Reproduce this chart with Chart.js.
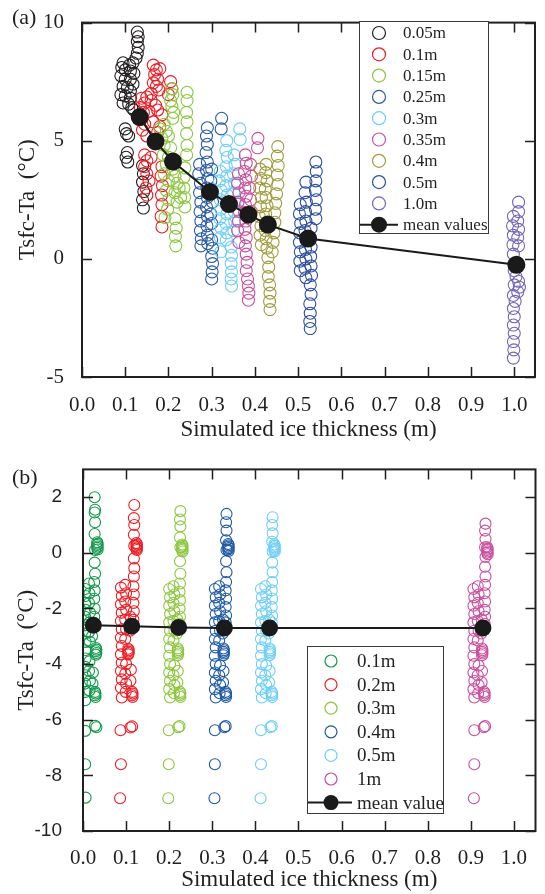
<!DOCTYPE html>
<html>
<head>
<meta charset="utf-8">
<script src="https://cdn.jsdelivr.net/npm/chart.js@4.4.1/dist/chart.umd.min.js"></script>
<style>
  body { margin: 0; background: #fff; }
  canvas { position: absolute; left: 0; }
  #chartA { top: 0; }
  #chartB { top: 445px; }
</style>
</head>
<body>
<canvas id="chartA" width="545" height="445"></canvas>
<canvas id="chartB" width="545" height="449"></canvas>
<script>
// ---- panel (a): x = simulated ice thickness (m), y = Tsfc-Ta (°C) ----
var labelsA = ["0.05m", "0.1m", "0.15m", "0.25m", "0.3m", "0.35m", "0.4m", "0.5m", "1.0m"];
var colorsA = ["#231f20", "#ed1c24", "#8dc63f", "#2b5ca8", "#6dcff6", "#c94f9f", "#a09c3c", "#2d4ea0", "#7466b8"];

var a005 = [[0.128,9.6],[0.13,9.4],[0.128,9.2],[0.13,8.95],[0.128,8.7],[0.125,8.5],
  [0.118,8.3],[0.11,8.2],[0.095,8.3],[0.092,8.1],[0.1,8.0],[0.112,7.95],[0.12,7.85],
  [0.09,7.75],[0.1,7.6],[0.112,7.6],[0.118,7.4],[0.095,7.3],[0.105,7.25],[0.112,7.1],
  [0.09,6.95],[0.1,6.9],[0.112,6.8],[0.095,6.6],[0.108,6.55],[0.115,6.4],[0.12,6.3],
  [0.1,5.5],[0.103,5.3],[0.108,5.2],[0.105,4.5],[0.102,4.3],[0.106,4.1],
  [0.14,3.95],[0.142,3.6],[0.14,3.25],[0.143,2.85],[0.14,2.5],[0.142,2.15]];
var a010 = [[0.165,8.2],[0.172,8.0],[0.18,8.05],[0.168,7.8],[0.175,7.6],[0.165,7.45],[0.172,7.3],[0.178,7.15],
  [0.205,7.5],[0.208,7.2],[0.2,6.95],[0.16,7.0],[0.15,6.85],[0.138,6.8],[0.145,6.6],[0.16,6.7],[0.17,6.5],
  [0.135,6.4],[0.142,6.2],[0.155,6.25],[0.175,6.3],[0.185,6.1],[0.135,5.9],[0.145,5.7],[0.165,5.8],[0.18,5.6],
  [0.14,5.45],[0.15,5.2],[0.175,5.35],[0.145,4.4],[0.15,4.15],[0.16,4.3],[0.145,3.9],[0.15,3.6],[0.155,3.3],
  [0.148,3.0],[0.15,2.7],[0.185,3.9],[0.183,3.5],[0.186,3.1],[0.184,2.7],[0.185,2.3],[0.183,1.8],[0.185,1.35]];
var a015 = [[0.208,7.2],[0.21,6.95],[0.205,6.7],[0.208,6.45],[0.212,6.2],[0.21,5.95],
  [0.243,7.05],[0.243,6.7],[0.242,6.2],[0.243,5.8],[0.242,5.3],[0.243,4.8],[0.242,4.4],[0.238,3.85],
  [0.236,3.45],[0.236,3.0],[0.237,2.6],[0.238,2.2],[0.18,5.5],[0.19,5.7],[0.195,5.4],[0.185,5.1],[0.2,5.2],
  [0.19,4.8],[0.205,4.7],[0.188,4.4],[0.2,4.3],[0.195,4.0],[0.21,3.8],[0.19,3.6],[0.215,3.5],[0.2,3.3],
  [0.22,3.2],[0.195,2.9],[0.215,2.8],[0.2,2.5],[0.22,2.4],[0.198,2.1],[0.192,1.75],[0.215,1.7],[0.218,1.3],
  [0.216,0.95],[0.217,0.55],[0.225,3.0],[0.228,2.6]];
var a025 = [[0.323,5.95],[0.322,5.5],[0.29,5.55],[0.288,5.2],[0.29,4.85],[0.287,4.5],[0.29,4.1],[0.288,3.75],
  [0.291,3.4],[0.289,3.0],[0.29,2.6],[0.288,2.2],[0.29,1.8],[0.289,1.4],[0.29,1.0],[0.291,0.65],
  [0.272,4.0],[0.27,3.6],[0.274,3.2],[0.272,2.8],[0.275,2.4],[0.273,2.0],[0.275,1.6],[0.274,1.2],[0.276,0.85],
  [0.275,0.55],[0.3,3.8],[0.298,3.3],[0.3,2.9],[0.302,2.4],[0.298,1.9],[0.3,1.5],
  [0.3,0.8],[0.302,0.45],[0.3,0.1],[0.302,-0.2],[0.301,-0.55],[0.3,-0.85]];
var a030 = [[0.365,5.5],[0.366,5.05],[0.335,5.0],[0.333,4.6],[0.336,4.3],[0.334,3.9],[0.335,3.5],[0.333,3.1],
  [0.336,2.7],[0.334,2.3],[0.335,1.9],[0.333,1.5],[0.335,1.1],[0.334,0.8],[0.32,3.7],[0.318,3.3],[0.322,2.9],
  [0.32,2.5],[0.321,2.1],[0.319,1.7],[0.322,1.3],[0.32,0.9],[0.321,0.3],[0.352,4.4],[0.354,4.0],[0.35,3.6],
  [0.353,3.2],[0.351,2.8],[0.354,2.4],[0.352,2.0],[0.353,1.6],[0.351,1.2],
  [0.345,0.5],[0.346,0.15],[0.345,-0.2],[0.346,-0.55],[0.345,-0.85],[0.346,-1.15]];
var a035 = [[0.407,5.1],[0.406,4.7],[0.378,4.4],[0.38,4.05],[0.376,3.7],[0.379,3.35],[0.377,3.0],[0.38,2.65],
  [0.378,2.3],[0.376,1.95],[0.379,1.6],[0.377,1.25],[0.38,0.9],[0.378,0.55],[0.362,3.6],[0.36,3.2],[0.363,2.8],
  [0.361,2.4],[0.364,2.0],[0.362,1.6],[0.36,1.2],[0.363,0.7],[0.39,4.0],[0.392,3.5],[0.388,3.0],[0.39,2.5],
  [0.392,2.0],[0.38,0.2],[0.382,-0.15],[0.38,-0.5],[0.383,-0.85],[0.385,-1.15],[0.386,-1.45],[0.385,-1.75]];
var a040 = [[0.453,4.75],[0.452,4.35],[0.454,3.95],[0.452,3.55],[0.453,3.15],[0.45,2.75],[0.448,2.35],[0.446,1.95],
  [0.446,1.55],[0.444,1.1],[0.442,0.7],[0.44,0.3],[0.426,4.0],[0.425,3.65],[0.428,3.3],[0.424,2.95],[0.426,2.6],
  [0.428,2.25],[0.425,1.9],[0.427,1.55],[0.424,1.2],[0.426,0.85],[0.428,0.45],[0.43,0.05],[0.432,-0.35],
  [0.431,-0.75],[0.412,3.8],[0.414,3.4],[0.411,3.0],[0.415,2.6],[0.413,2.2],[0.41,1.8],[0.414,1.4],[0.412,1.0],
  [0.415,0.6],[0.434,-1.1],[0.435,-1.45],[0.434,-1.8],[0.435,-2.15]];
var a050 = [[0.541,4.1],[0.542,3.7],[0.541,3.3],[0.54,2.9],[0.542,2.5],[0.54,2.1],[0.541,1.7],
  [0.518,3.25],[0.516,2.8],[0.519,2.4],[0.517,2.0],[0.518,1.6],[0.516,1.2],[0.519,0.8],[0.517,0.4],[0.518,0.0],
  [0.516,-0.4],[0.518,-0.8],[0.505,2.3],[0.503,1.9],[0.506,1.5],[0.504,1.1],[0.503,0.7],[0.505,0.3],[0.504,-0.1],
  [0.505,-0.5],[0.53,1.3],[0.528,0.9],[0.53,0.5],[0.529,0.1],[0.53,-0.3],[0.531,-0.7],[0.528,-1.1],[0.53,-1.5],
  [0.527,-1.9],[0.528,-2.3],[0.527,-2.65],[0.528,-2.95]];
var a100 = [[1.01,2.4],[1.01,2.0],[1.008,1.6],[1.01,1.25],[1.008,0.9],[1.01,0.55],
  [0.998,1.8],[0.996,1.4],[0.998,1.0],[0.997,0.6],[0.998,0.2],[0.999,-0.2],[1.0,-0.5],[1.004,-0.75],[1.01,-0.95],
  [1.012,-1.2],[1.008,-1.4],[1.0,-1.1],[0.998,-1.55],[1.002,-1.8],[0.998,-2.1],[1.0,-2.45],[0.998,-2.8],
  [1.0,-3.15],[0.998,-3.5],[0.999,-3.85],[0.998,-4.2]];
var meanA = [[0.1335,6.0],[0.17,4.97],[0.2105,4.12],[0.296,2.83],[0.34,2.32],[0.385,1.87],[0.43,1.45],[0.523,0.86],[1.005,-0.25]];

// ---- panel (b) ----
var labelsB = ["0.1m", "0.2m", "0.3m", "0.4m", "0.5m", "1m"];
var colorsB = ["#139a4a", "#ed1c24", "#8dc63f", "#1f5aa6", "#6dcff6", "#c94f9f"];

var b01 = [[0.027,2.0],[0.028,1.55],[0.027,1.45],[0.028,1.1],[0.027,0.68],[0.028,0.1],[0.027,-0.35],[0.028,-0.75],
  [0.026,-1.05],[0.027,-1.35],[0.026,-1.65],[0.027,-2.0],[0.026,-2.3],
  [0.033,0.38],[0.034,0.33],[0.033,0.28],[0.034,0.23],[0.033,0.18],[0.034,0.12],
  [0.005,-1.3],[0.006,-1.55],[0.005,-1.8],[0.006,-2.05],[0.005,-2.3],[0.006,-2.6],[0.005,-2.9],[0.006,-3.2],
  [0.005,-3.5],[0.006,-3.8],[0.005,-4.1],[0.006,-4.4],[0.005,-4.7],[0.006,-5.0],[0.005,-5.3],
  [0.014,-1.1],[0.015,-1.45],[0.014,-1.8],[0.016,-2.15],[0.015,-2.5],[0.014,-2.85],[0.016,-3.2],[0.015,-3.9],
  [0.014,-4.25],[0.016,-4.6],[0.015,-4.95],[0.022,-2.6],[0.021,-3.0],[0.023,-4.3],[0.022,-4.7],
  [0.03,-3.42],[0.031,-3.48],[0.03,-3.54],[0.031,-3.6],[0.03,-3.66],
  [0.028,-5.0],[0.029,-5.06],[0.028,-5.12],[0.029,-5.18],
  [0.005,-6.4],[0.028,-6.22],[0.031,-6.27],[0.005,-7.6],[0.006,-8.8]];
var b02 = [[0.119,1.72],[0.118,1.25],[0.119,1.0],[0.118,0.65],[0.119,0.25],[0.118,-0.2],[0.119,-0.55],[0.118,-0.85],
  [0.117,-1.2],[0.118,-1.5],[0.117,-1.8],[0.118,-2.1],[0.117,-2.4],
  [0.124,0.35],[0.125,0.3],[0.124,0.25],[0.125,0.2],[0.124,0.15],[0.125,0.1],
  [0.088,-1.25],[0.09,-1.55],[0.088,-1.85],[0.09,-2.15],[0.088,-2.45],[0.09,-2.75],[0.088,-3.05],[0.09,-3.35],
  [0.088,-3.65],[0.09,-3.95],[0.088,-4.25],[0.09,-4.55],[0.088,-4.85],[0.09,-5.2],
  [0.098,-1.15],[0.1,-1.45],[0.098,-1.75],[0.1,-2.05],[0.098,-2.4],[0.1,-2.75],[0.098,-3.1],[0.1,-4.0],
  [0.098,-4.35],[0.1,-4.7],[0.099,-5.0],[0.11,-2.3],[0.109,-2.8],[0.111,-4.2],[0.11,-4.6],
  [0.105,-3.45],[0.106,-3.5],[0.105,-3.55],[0.106,-3.6],[0.105,-3.65],
  [0.114,-5.0],[0.115,-5.06],[0.114,-5.12],[0.115,-5.18],
  [0.087,-6.38],[0.11,-6.28],[0.114,-6.24],[0.088,-7.6],[0.086,-8.82]];
var b03 = [[0.226,1.5],[0.225,1.2],[0.226,0.95],[0.225,0.55],[0.226,0.2],[0.225,-0.3],[0.226,-0.75],[0.225,-1.1],
  [0.224,-1.4],[0.225,-1.7],[0.224,-2.0],[0.225,-2.3],[0.224,-2.55],
  [0.23,0.3],[0.231,0.25],[0.23,0.2],[0.231,0.15],[0.23,0.1],[0.231,0.05],
  [0.2,-1.3],[0.202,-1.6],[0.2,-1.9],[0.202,-2.2],[0.2,-2.5],[0.202,-2.8],[0.2,-3.1],[0.202,-3.4],
  [0.2,-3.7],[0.202,-4.0],[0.2,-4.3],[0.202,-4.6],[0.2,-4.9],[0.202,-5.2],
  [0.21,-1.2],[0.212,-1.5],[0.21,-1.8],[0.212,-2.1],[0.21,-2.45],[0.212,-2.8],[0.21,-3.15],[0.212,-4.05],
  [0.21,-4.4],[0.212,-4.75],[0.211,-5.05],[0.219,-2.4],[0.218,-2.9],[0.22,-4.25],[0.219,-4.65],
  [0.22,-3.44],[0.221,-3.5],[0.22,-3.56],[0.221,-3.62],[0.22,-3.68],
  [0.225,-5.0],[0.226,-5.06],[0.225,-5.12],[0.226,-5.18],
  [0.199,-6.38],[0.221,-6.27],[0.224,-6.23],[0.199,-7.6],[0.198,-8.82]];
var b04 = [[0.333,1.4],[0.332,1.1],[0.333,0.8],[0.332,0.45],[0.333,0.1],[0.332,-0.3],[0.333,-0.7],[0.332,-1.05],
  [0.331,-1.35],[0.332,-1.65],[0.331,-1.95],[0.332,-2.25],[0.331,-2.5],
  [0.337,0.32],[0.338,0.27],[0.337,0.22],[0.338,0.17],[0.337,0.12],[0.338,0.07],
  [0.306,-1.3],[0.308,-1.6],[0.306,-1.9],[0.308,-2.2],[0.306,-2.5],[0.308,-2.8],[0.306,-3.1],[0.308,-3.4],
  [0.306,-3.7],[0.308,-4.0],[0.306,-4.3],[0.308,-4.6],[0.306,-4.9],[0.308,-5.2],
  [0.316,-1.2],[0.318,-1.5],[0.316,-1.8],[0.318,-2.1],[0.316,-2.45],[0.318,-2.8],[0.316,-3.15],[0.318,-4.05],
  [0.316,-4.4],[0.318,-4.75],[0.317,-5.05],[0.325,-2.4],[0.324,-2.9],[0.326,-4.25],[0.325,-4.65],
  [0.326,-3.44],[0.327,-3.5],[0.326,-3.56],[0.327,-3.62],[0.326,-3.68],
  [0.331,-5.0],[0.332,-5.06],[0.331,-5.12],[0.332,-5.18],
  [0.306,-6.38],[0.328,-6.27],[0.331,-6.23],[0.306,-7.6],[0.305,-8.82]];
var b05 = [[0.44,1.28],[0.439,1.0],[0.44,0.7],[0.439,0.4],[0.44,0.05],[0.439,-0.35],[0.44,-0.7],[0.439,-1.05],
  [0.438,-1.35],[0.439,-1.65],[0.438,-1.95],[0.439,-2.25],[0.438,-2.5],
  [0.444,0.3],[0.445,0.25],[0.444,0.2],[0.445,0.15],[0.444,0.1],[0.445,0.05],
  [0.413,-1.3],[0.415,-1.6],[0.413,-1.9],[0.415,-2.2],[0.413,-2.5],[0.415,-2.8],[0.413,-3.1],[0.415,-3.4],
  [0.413,-3.7],[0.415,-4.0],[0.413,-4.3],[0.415,-4.6],[0.413,-4.9],[0.415,-5.2],
  [0.423,-1.2],[0.425,-1.5],[0.423,-1.8],[0.425,-2.1],[0.423,-2.45],[0.425,-2.8],[0.423,-3.15],[0.425,-4.05],
  [0.423,-4.4],[0.425,-4.75],[0.424,-5.05],[0.432,-2.4],[0.431,-2.9],[0.433,-4.25],[0.432,-4.65],
  [0.433,-3.44],[0.434,-3.5],[0.433,-3.56],[0.434,-3.62],[0.433,-3.68],
  [0.438,-5.0],[0.439,-5.06],[0.438,-5.12],[0.439,-5.18],
  [0.413,-6.38],[0.435,-6.27],[0.438,-6.23],[0.413,-7.6],[0.412,-8.82]];
var b10 = [[0.934,1.05],[0.933,0.8],[0.934,0.5],[0.933,0.2],[0.934,-0.15],[0.933,-0.5],[0.934,-0.85],[0.933,-1.15],
  [0.932,-1.45],[0.933,-1.75],[0.932,-2.05],[0.933,-2.3],[0.932,-2.55],
  [0.938,0.2],[0.939,0.15],[0.938,0.1],[0.939,0.05],[0.938,0.0],[0.939,-0.05],
  [0.906,-1.3],[0.908,-1.6],[0.906,-1.9],[0.908,-2.2],[0.906,-2.5],[0.908,-2.8],[0.906,-3.1],[0.908,-3.4],
  [0.906,-3.7],[0.908,-4.0],[0.906,-4.3],[0.908,-4.6],[0.906,-4.9],[0.908,-5.2],
  [0.916,-1.2],[0.918,-1.5],[0.916,-1.8],[0.918,-2.1],[0.916,-2.45],[0.918,-2.8],[0.916,-3.15],[0.918,-4.05],
  [0.916,-4.4],[0.918,-4.75],[0.917,-5.05],[0.925,-2.4],[0.924,-2.9],[0.926,-4.25],[0.925,-4.65],
  [0.926,-3.44],[0.927,-3.5],[0.926,-3.56],[0.927,-3.62],[0.926,-3.68],
  [0.931,-5.0],[0.932,-5.06],[0.931,-5.12],[0.932,-5.18],
  [0.908,-6.38],[0.93,-6.27],[0.933,-6.23],[0.908,-7.6],[0.907,-8.82]];
var meanB = [[0.024,-2.6],[0.113,-2.64],[0.222,-2.68],[0.328,-2.7],[0.433,-2.7],[0.928,-2.7]];

var ink = "#231f20";
var serif = '"Liberation Serif", "Times New Roman", serif';

// inward ticks on four sides, frame, panel letter and the boxed legend
var decor = {
  id: "decor",
  afterDraw: function (chart, args, o) {
    var ctx = chart.ctx, a = chart.chartArea, sx = chart.scales.x, sy = chart.scales.y;
    ctx.save();
    ctx.strokeStyle = ink;
    ctx.lineWidth = 1.5;
    ctx.beginPath();
    sx.ticks.forEach(function (t) {
      var p = Math.round(sx.getPixelForValue(t.value)) + 0.5;
      ctx.moveTo(p, a.bottom); ctx.lineTo(p, a.bottom - 10);
      ctx.moveTo(p, a.top); ctx.lineTo(p, a.top + 10);
    });
    sy.ticks.forEach(function (t) {
      var p = Math.round(sy.getPixelForValue(t.value)) + 0.5;
      ctx.moveTo(a.left, p); ctx.lineTo(a.left + 10, p);
      ctx.moveTo(a.right, p); ctx.lineTo(a.right - 10, p);
    });
    ctx.stroke();
    ctx.lineWidth = 2;
    ctx.strokeRect(a.left, a.top, a.right - a.left, a.bottom - a.top);

    ctx.fillStyle = ink;
    ctx.font = "22px " + serif;
    ctx.textAlign = "left";
    ctx.textBaseline = "middle";
    ctx.fillText(o.tag, o.tagX, o.tagY);

    var L = o.legend;
    ctx.fillStyle = "#fff";
    ctx.fillRect(L.x, L.y, L.w, L.h);
    ctx.lineWidth = 1;
    ctx.strokeStyle = "#3a3a3a";
    ctx.strokeRect(L.x + 0.5, L.y + 0.5, L.w, L.h);
    ctx.font = L.size + "px " + serif;
    var sets = chart.data.datasets.filter(function (d) { return !d.showLine; });
    sets = sets.concat(chart.data.datasets.filter(function (d) { return d.showLine; }));
    sets.forEach(function (d, i) {
      var cy = L.y0 + i * L.step;
      if (d.showLine) {
        ctx.strokeStyle = "#1a1a1a";
        ctx.lineWidth = 2;
        ctx.beginPath();
        ctx.moveTo(L.lx0, cy); ctx.lineTo(L.lx1, cy);
        ctx.stroke();
        ctx.fillStyle = "#1a1a1a";
        ctx.beginPath();
        ctx.arc(L.mx, cy, L.dot, 0, Math.PI * 2);
        ctx.fill();
      } else {
        ctx.strokeStyle = d.borderColor;
        ctx.lineWidth = 1.2;
        ctx.beginPath();
        ctx.arc(L.mx, cy, L.r, 0, Math.PI * 2);
        ctx.stroke();
      }
      ctx.fillStyle = ink;
      ctx.fillText(d.label, L.tx, cy + 1);
    });
    ctx.restore();
  }
};

function scatterSet(label, color, data, order, r) {
  return {
    label: label,
    data: data,
    borderColor: color,
    backgroundColor: "rgba(0,0,0,0)",
    pointRadius: r,
    pointBorderWidth: 1.1,
    showLine: false,
    clip: 0,
    order: order
  };
}

function meanSet(label, data, r) {
  return {
    label: label,
    data: data,
    showLine: true,
    borderColor: "#1a1a1a",
    borderWidth: 2,
    pointRadius: r,
    pointBackgroundColor: "#1a1a1a",
    pointBorderColor: "#1a1a1a",
    clip: 0,
    order: 0
  };
}

function axes(cfg) {
  return {
    x: {
      type: "linear", min: 0, max: cfg.xmax,
      grid: { display: false }, border: { display: false },
      ticks: {
        stepSize: 0.1, includeBounds: false, autoSkip: false, maxRotation: 0,
        padding: cfg.xpad, color: ink, font: { family: serif, size: 21 },
        callback: function (v) { return v.toFixed(1); }
      },
      title: { display: true, text: "Simulated ice thickness (m)", color: ink,
        font: { family: serif, size: 23 }, padding: { top: 0, bottom: cfg.xtitlePad } },
      afterFit: function (s) { s.height = cfg.xh; }
    },
    y: {
      type: "linear", min: cfg.ymin, max: cfg.ymax,
      grid: { display: false }, border: { display: false },
      ticks: {
        stepSize: cfg.ystep, includeBounds: false, padding: cfg.ypad, color: ink,
        font: cfg.yfont,
        callback: function (v) { return String(v); }
      },
      title: { display: true, text: "Tsfc-Ta  (\u00b0C)", color: ink,
        font: { family: serif, size: 23 }, padding: { top: cfg.ytitlePad, bottom: 0 } },
      afterFit: function (s) { s.width = cfg.yw; }
    }
  };
}

var setsA = [meanSet("mean values", meanA, 8)];
[a005, a010, a015, a025, a030, a035, a040, a050, a100].forEach(function (d, i) {
  setsA.push(scatterSet(labelsA[i], colorsA[i], d, 9 - i, 6));
});

var setsB = [meanSet("mean value", meanB, 7.5)];
[b01, b02, b03, b04, b05, b10].forEach(function (d, i) {
  setsB.push(scatterSet(labelsB[i], colorsB[i], d, 6 - i, 5.5));
});

var chartA = new Chart(document.getElementById("chartA").getContext("2d"), {
  type: "scatter",
  data: { datasets: setsA },
  options: {
    responsive: false, animation: false, devicePixelRatio: 1,
    layout: { padding: { top: 15, right: 6, left: 0, bottom: 0 } },
    scales: axes({ xmax: 1.048, xpad: 8, xtitlePad: 1, xh: 68, ymin: -5, ymax: 10, ystep: 5,
      ypad: 10, yfont: { family: serif, size: 21 }, ytitlePad: 14, yw: 82 }),
    plugins: {
      legend: { display: false }, tooltip: { enabled: false },
      decor: { tag: "(a)", tagX: 12, tagY: 18,
        legend: { x: 359, y: 21, w: 129, h: 212, size: 17, y0: 33, step: 21.3,
          mx: 379, r: 6.5, tx: 403, lx0: 360, lx1: 398, dot: 8 } }
    }
  },
  plugins: [decor]
});

var chartB = new Chart(document.getElementById("chartB").getContext("2d"), {
  type: "scatter",
  data: { datasets: setsB },
  options: {
    responsive: false, animation: false, devicePixelRatio: 1,
    layout: { padding: { top: 24, right: 4, left: 0, bottom: 0 } },
    scales: axes({ xmax: 1.05, xpad: 7, xtitlePad: 0, xh: 63, ymin: -10, ymax: 3, ystep: 2,
      ypad: 13, yfont: { family: '"Liberation Sans", Arial, sans-serif', size: 19 }, ytitlePad: 13, yw: 83 }),
    plugins: {
      legend: { display: false }, tooltip: { enabled: false },
      decor: { tag: "(b)", tagX: 12, tagY: 33,
        legend: { x: 307, y: 201, w: 136, h: 167, size: 19, y0: 216, step: 23.6,
          mx: 331, r: 6, tx: 357, lx0: 308, lx1: 352, dot: 7.5 } }
    }
  },
  plugins: [decor]
});
</script>
</body>
</html>
